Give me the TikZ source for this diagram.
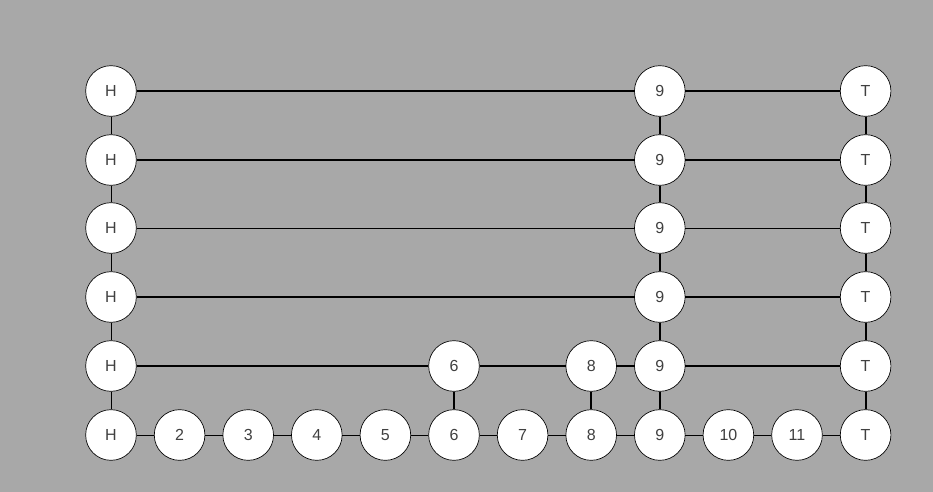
\documentclass[tikz,border=0pt]{standalone}
\usepackage{fontspec}
\setmainfont{Liberation Sans}
\definecolor{bg}{HTML}{A8A8A8}
\definecolor{txt}{HTML}{404040}
\tikzset{
  nd/.style={circle,draw=black,line width=0.5pt,fill=white,minimum size=38pt,inner sep=0pt,text=txt,font=\fontsize{12}{14}\selectfont,text height=8.6pt,text depth=0pt},
  thick link/.style={line width=1.5pt},
  thin link/.style={line width=0.75pt}
}
\begin{document}
\begin{tikzpicture}[x=0.75pt,y=-0.75pt]
\fill[bg] (0,0) rectangle (933,492);
\useasboundingbox (0,0) rectangle (933,492);
% bottom row
\foreach \i/\l in {0/H,1/2,2/3,3/4,4/5,5/6,6/7,7/8,8/9,9/10,10/11,11/T}{
  \node[nd] (b\i) at ({111+68.6*\i},435) {\l};
}
% upper rows: r1..r5 (r1 top)
\foreach \r/\y in {1/91,2/160,3/228,4/297,5/366}{
  \node[nd] (h\r) at (111,\y) {H};
  \node[nd] (n\r) at ({111+68.6*8},\y) {9};
  \node[nd] (t\r) at ({111+68.6*11},\y) {T};
}
\node[nd] (s6) at ({111+68.6*5},366) {6};
\node[nd] (s8) at ({111+68.6*7},366) {8};
% bottom row links
\foreach \i [evaluate=\i as \j using int(\i+1)] in {0,...,10}{
  \draw[thin link] (b\i) -- (b\j);
}
% horizontal links
\draw[thick link] (h1) -- (n1); \draw[thick link] (n1) -- (t1);
\draw[thick link] (h2) -- (n2); \draw[thick link] (n2) -- (t2);
\draw[thin link] (h3) -- (n3); \draw[thin link] (n3) -- (t3);
\draw[thick link] (h4) -- (n4); \draw[thick link] (n4) -- (t4);
\draw[thick link] (h5) -- (s6); \draw[thick link] (s6) -- (s8);
\draw[thick link] (s8) -- (n5); \draw[thick link] (n5) -- (t5);
% vertical links
\draw[thin link] (h1) -- (h2); \draw[thin link] (h2) -- (h3);
\draw[thin link] (h3) -- (h4); \draw[thin link] (h4) -- (h5);
\draw[thin link] (h5) -- (b0);
\draw[thick link] (n1) -- (n2); \draw[thick link] (n2) -- (n3);
\draw[thick link] (n3) -- (n4); \draw[thick link] (n4) -- (n5);
\draw[thick link] (n5) -- (b8);
\draw[thick link] (t1) -- (t2); \draw[thick link] (t2) -- (t3);
\draw[thick link] (t3) -- (t4); \draw[thick link] (t4) -- (t5);
\draw[thick link] (t5) -- (b11);
\draw[thick link] (s6) -- (b5);
\draw[thick link] (s8) -- (b7);
\end{tikzpicture}
\end{document}
